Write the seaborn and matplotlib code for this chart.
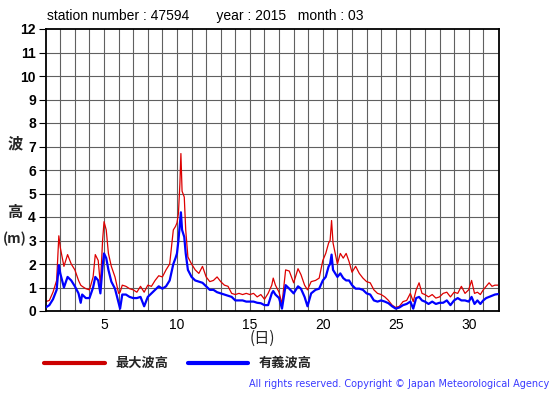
import matplotlib
matplotlib.use("Agg")
import matplotlib.pyplot as plt
from matplotlib.lines import Line2D
import numpy as np
import pandas as pd
import seaborn as sns

# ---- data ----
days = [1.00, 1.25, 1.50, 1.75, 1.90, 2.00, 2.25, 2.50, 2.75, 3.00, 3.25, 3.40, 3.50, 3.75,
        4.00, 4.25, 4.40, 4.60, 4.75, 4.90, 5.00, 5.15, 5.30, 5.50, 5.75, 6.00, 6.10, 6.25,
        6.50, 6.75, 7.00, 7.25, 7.50, 7.75, 8.00, 8.25, 8.50, 8.75, 9.00, 9.25, 9.50, 9.75,
        9.90, 10.00, 10.10, 10.20, 10.27, 10.35, 10.50, 10.60, 10.75, 11.00, 11.25, 11.50,
        11.75, 12.00, 12.25, 12.50, 12.75, 13.00, 13.25, 13.50, 13.75, 14.00, 14.25, 14.50,
        14.75, 15.00, 15.25, 15.50, 15.75, 16.00, 16.25, 16.50, 16.60, 16.75, 17.00, 17.20,
        17.45, 17.70, 18.00, 18.30, 18.50, 18.75, 18.95, 19.20, 19.50, 19.75, 20.00, 20.20,
        20.40, 20.50, 20.60, 20.70, 21.00, 21.20, 21.40, 21.60, 21.80, 22.00, 22.25, 22.50,
        22.75, 23.00, 23.25, 23.50, 23.75, 24.00, 24.25, 24.50, 24.75, 25.00, 25.25, 25.50,
        25.75, 26.00, 26.20, 26.40, 26.60, 26.80, 27.00, 27.25, 27.50, 27.75, 28.00, 28.25,
        28.50, 28.75, 29.00, 29.25, 29.50, 29.75, 30.00, 30.20, 30.40, 30.60, 30.80, 31.00,
        31.20, 31.40, 31.60, 31.80, 32.00]

max_wave = [0.40, 0.45, 0.80, 1.30, 3.20, 2.70, 1.90, 2.40, 2.00, 1.75, 1.30, 1.10, 1.05, 0.95,
            0.90, 1.45, 2.40, 2.15, 1.10, 3.00, 3.80, 3.45, 2.45, 1.90, 1.45, 0.75, 0.80, 1.10,
            1.05, 0.95, 0.90, 0.80, 1.05, 0.80, 1.10, 1.05, 1.30, 1.50, 1.45, 1.75, 2.00, 3.45,
            3.60, 3.75, 4.15, 5.40, 6.70, 5.10, 4.85, 3.45, 2.30, 2.00, 1.75, 1.60,
            1.90, 1.45, 1.25, 1.30, 1.45, 1.25, 1.10, 1.05, 0.75, 0.70, 0.75, 0.70,
            0.75, 0.70, 0.75, 0.60, 0.70, 0.50, 0.75, 1.10, 1.40, 1.10, 0.80, 0.30,
            1.75, 1.70, 1.20, 1.80, 1.55, 1.10, 0.90, 1.25, 1.30, 1.40, 2.15, 2.45,
            2.90, 3.00, 3.85, 2.90, 2.00, 2.45, 2.25, 2.45, 2.10, 1.65, 1.90, 1.60,
            1.40, 1.25, 1.20, 0.90, 0.75, 0.70, 0.60, 0.45, 0.25, 0.15, 0.20, 0.40,
            0.45, 0.75, 0.40, 0.90, 1.20, 0.75, 0.70, 0.60, 0.70, 0.55, 0.60, 0.75,
            0.80, 0.60, 0.80, 0.75, 1.05, 0.75, 0.90, 1.30, 0.75, 0.80, 0.70, 0.90,
            1.05, 1.20, 1.05, 1.10, 1.10]

sig_wave = [0.15, 0.25, 0.50, 0.90, 1.95, 1.60, 1.00, 1.45, 1.30, 1.05, 0.75, 0.35, 0.70, 0.55,
            0.55, 1.00, 1.45, 1.30, 0.75, 1.90, 2.45, 2.25, 1.75, 1.25, 0.95, 0.33, 0.10, 0.70,
            0.70, 0.60, 0.55, 0.55, 0.60, 0.20, 0.60, 0.75, 0.90, 1.05, 0.95, 1.05, 1.30, 2.00,
            2.25, 2.45, 3.00, 3.70, 4.20, 3.45, 3.15, 2.45, 1.75, 1.45, 1.30, 1.25,
            1.20, 1.05, 0.90, 0.90, 0.80, 0.75, 0.70, 0.65, 0.60, 0.45, 0.45, 0.45,
            0.40, 0.40, 0.40, 0.35, 0.33, 0.25, 0.25, 0.75, 0.85, 0.70, 0.55, 0.10,
            1.10, 0.95, 0.75, 1.05, 0.95, 0.60, 0.20, 0.75, 0.90, 0.95, 1.30, 1.45,
            1.90, 2.00, 2.40, 1.75, 1.45, 1.60, 1.40, 1.30, 1.30, 1.10, 0.95, 0.95,
            0.90, 0.75, 0.70, 0.45, 0.40, 0.45, 0.40, 0.33, 0.20, 0.10, 0.15, 0.25,
            0.30, 0.40, 0.10, 0.55, 0.60, 0.45, 0.40, 0.30, 0.40, 0.30, 0.35, 0.35,
            0.45, 0.25, 0.45, 0.55, 0.45, 0.45, 0.40, 0.60, 0.30, 0.45, 0.30, 0.45,
            0.55, 0.60, 0.65, 0.70, 0.72]

x_ticks = [5, 10, 15, 20, 25, 30]
y_ticks = list(range(0, 13))
series_names = ["最大波高", "有義波高"]
series_colors = ["#dd0000", "#0000ff"]

title_text = "station number : 47594       year : 2015   month : 03"

# ---- figure ----
sns.set_theme(style="white")
plt.rcParams["font.family"] = ["Liberation Sans", "Noto Sans CJK JP", "DejaVu Sans"]

W, H = 555, 395
fig = plt.figure(figsize=(W / 100, H / 100), dpi=100)
fig.patch.set_facecolor("white")

def fx(px):
    return px / W

def fy(py):
    return 1 - py / H

left, right, top, bottom = 45.7, 499.3, 29.0, 311.0
ax = fig.add_axes([fx(left), fy(bottom), fx(right) - fx(left), (bottom - top) / H])
ax.set_facecolor("white")

df = pd.DataFrame({
    "day": days * 2,
    "height": max_wave + sig_wave,
    "series": [series_names[0]] * len(days) + [series_names[1]] * len(days),
})

sns.lineplot(data=df[df.series == series_names[0]], x="day", y="height",
             color=series_colors[0], linewidth=0.9, ax=ax, legend=False)
sns.lineplot(data=df[df.series == series_names[1]], x="day", y="height",
             color=series_colors[1], linewidth=1.6, ax=ax, legend=False)
ax.lines[0].set_zorder(2)
ax.lines[1].set_zorder(3)

ax.set_xlim(1, 32.1)
ax.set_ylim(0, 12)
ax.set_xticks(x_ticks)
ax.set_xticklabels([str(t) for t in x_ticks], fontsize=10)
ax.set_yticks(y_ticks)
ax.set_yticklabels([str(t) for t in y_ticks], fontsize=10, fontweight="bold")
ax.grid(False)
for d in range(2, 32):
    ax.axvline(d, color="#606060", linewidth=0.8, zorder=1)
for h in range(1, 12):
    ax.axhline(h, color="#606060", linewidth=0.8, zorder=1)
ax.tick_params(axis="x", which="both", length=0, pad=5, colors="black")
ax.tick_params(axis="y", which="major", length=5, width=0.8, direction="out", pad=2,
               colors="black", left=True)
ax.set_xlabel("")
ax.set_ylabel("")
for s in ax.spines.values():
    s.set_color("black")
    s.set_linewidth(1.3)
    s.set_visible(True)

# title
fig.text(fx(47), fy(16), title_text, fontsize=10, ha="left", va="center", color="black")

# y label
jp = ["Noto Sans CJK JP", "DejaVu Sans"]
fig.text(fx(15), fy(143), "波", fontsize=11, ha="center", va="center", family=jp, fontweight="bold")
fig.text(fx(15), fy(212), "高", fontsize=11, ha="center", va="center", family=jp, fontweight="bold")
fig.text(fx(15), fy(239), "(m)", fontsize=10, ha="center", va="center", family=jp, fontweight="bold")

# x label
fig.text(fx(262), fy(338), "(日)", fontsize=11, ha="center", va="center", family=jp)

# legend
fig.add_artist(Line2D([fx(44), fx(105)], [fy(363), fy(363)], color="#cc0000", linewidth=3.0))
fig.text(fx(115), fy(363), series_names[0], fontsize=9.5, ha="left", va="center",
         family=jp, fontweight="bold")
fig.add_artist(Line2D([fx(188), fx(248)], [fy(363), fy(363)], color="#0000ff", linewidth=3.0))
fig.text(fx(259), fy(363), series_names[1], fontsize=9.5, ha="left", va="center",
         family=jp, fontweight="bold")

# copyright
fig.text(fx(549), fy(384), "All rights reserved. Copyright \u00a9 Japan Meteorological Agency",
         fontsize=7, ha="right", va="center", color="#3a3aff", family=["DejaVu Sans"])

fig.savefig("out.png", dpi=100, facecolor="white")
